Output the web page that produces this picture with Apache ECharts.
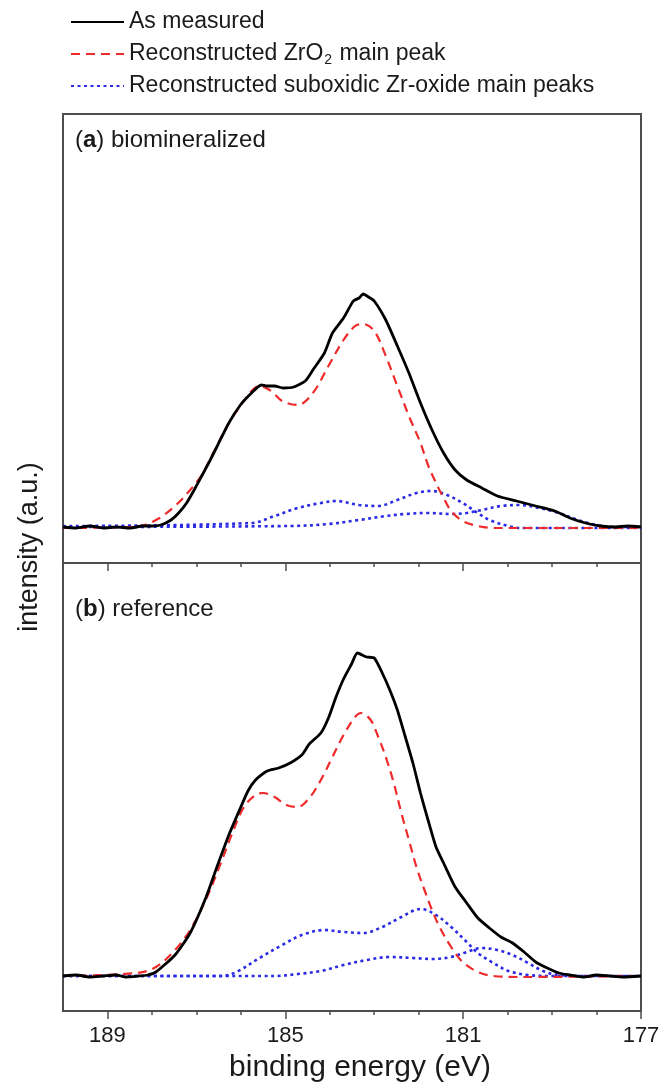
<!DOCTYPE html>
<html>
<head>
<meta charset="utf-8">
<script src="https://cdn.jsdelivr.net/npm/echarts@6/dist/echarts.min.js"></script>
<style>
  html, body { margin: 0; padding: 0; background: #fff; }
  #chart { width: 660px; height: 1090px; }
</style>
</head>
<body>
<div id="chart"></div>
<script>
// series names (legend)
const NAME_MEAS = 'As measured'
const NAME_ZRO2 = 'Reconstructed ZrO2 main peak'
const NAME_SUB = 'Reconstructed suboxidic Zr-oxide main peaks'

// x ticks (binding energy, eV)
const tickLabels = [189, 185, 181, 177]
const minorTicks = [188, 187, 186, 184, 183, 182, 180, 179, 178]

// (a) biomineralized - as measured
const aMeasE = [190.0, 189.7, 189.4, 189.1, 188.8, 188.5, 188.2, 188.0, 187.8, 187.57, 187.4, 187.22, 187.05, 186.88, 186.7, 186.53, 186.27, 186.01, 185.76, 185.54, 185.41, 185.24, 185.05, 184.81, 184.55, 184.38, 184.12, 183.94, 183.69, 183.47, 183.34, 183.25, 183.13, 183.0, 182.74, 182.48, 182.22, 181.96, 181.7, 181.44, 181.18, 180.92, 180.58, 180.23, 179.8, 179.37, 178.94, 178.6, 178.25, 177.91, 177.6, 177.3, 177.0]
const aMeasI = [0, -1, 1, -1, 0, -1, 1, 1, 2, 7, 14, 24, 37, 51, 66, 81, 104, 122, 134, 142, 141, 141, 139, 140, 146, 157, 174, 194, 209, 226, 229, 233, 230, 226, 207, 181, 154, 124, 97, 74, 57, 47, 39, 31, 26, 21, 16, 9, 4, 1, 0, 1, 0]

// (a) reconstructed ZrO2
const aZrE = [190.0, 188.52, 188.17, 187.83, 187.48, 187.14, 186.88, 186.62, 186.27, 186.01, 185.76, 185.58, 185.32, 185.07, 184.72, 184.38, 184.03, 183.69, 183.43, 183.25, 183.0, 182.74, 182.48, 182.22, 181.96, 181.79, 181.61, 181.44, 181.27, 181.01, 180.67, 180.3, 177.0]
const aZrI = [-1, 0, 2, 9, 21, 37, 52, 74, 104, 121, 136, 141, 136, 126, 122, 134, 161, 187, 201, 203, 196, 171, 141, 111, 84, 62, 44, 29, 16, 6, 1, -1, -1]

// (a) suboxidic components
const aSub1E = [190.0, 185.76, 185.24, 184.72, 184.2, 183.86, 183.34, 182.91, 182.48, 182.05, 181.7, 181.36, 181.01, 180.67, 180.41, 179.98, 179.72, 177.0]
const aSub1I = [1, 4, 11, 19, 24, 26, 22, 21, 27, 34, 36, 32, 24, 14, 7, 1, -1, -1]
const aSub2E = [190.0, 184.89, 184.03, 183.34, 182.74, 182.3, 181.79, 181.27, 180.92, 180.58, 180.15, 179.72, 179.29, 178.85, 178.42, 177.99, 177.56, 177.0]
const aSub2I = [0, 1, 3, 7, 11, 13, 14, 13, 14, 17, 21, 22, 19, 14, 7, 2, 0, 0]

// (b) reference - as measured
const bMeasE = [190.0, 189.7, 189.4, 189.1, 188.8, 188.6, 188.3, 188.1, 187.91, 187.48, 187.14, 186.79, 186.53, 186.27, 186.01, 185.84, 185.67, 185.41, 185.15, 184.89, 184.63, 184.46, 184.2, 184.03, 183.86, 183.69, 183.51, 183.38, 183.17, 183.0, 182.82, 182.65, 182.48, 182.3, 182.13, 181.96, 181.79, 181.61, 181.44, 181.18, 180.92, 180.67, 180.41, 180.15, 179.89, 179.63, 179.37, 179.11, 178.85, 178.6, 178.3, 178.0, 177.7, 177.4, 177.0]
const bMeasI = [0, 1, -1, 0, 1, -1, 0, 1, 4, 21, 43, 78, 110, 141, 168, 185, 196, 205, 208, 213, 221, 232, 243, 258, 279, 297, 312, 323, 319, 318, 303, 286, 266, 239, 213, 183, 156, 129, 113, 89, 73, 58, 48, 39, 33, 24, 14, 8, 3, 1, -1, 1, 0, -1, 0]

// (b) reconstructed ZrO2
const bZrE = [190.0, 188.34, 187.91, 187.48, 187.14, 186.79, 186.45, 186.19, 185.93, 185.67, 185.5, 185.24, 184.98, 184.72, 184.46, 184.2, 183.94, 183.69, 183.43, 183.3, 183.08, 182.91, 182.74, 182.56, 182.39, 182.22, 182.05, 181.87, 181.7, 181.53, 181.27, 181.01, 180.67, 180.32, 179.72, 177.0]
const bZrI = [0, 3, 9, 26, 46, 76, 113, 143, 169, 181, 183, 179, 171, 169, 178, 196, 219, 241, 259, 263, 256, 239, 219, 193, 163, 136, 109, 86, 66, 49, 29, 14, 4, 0, -1, 0]

// (b) suboxidic components
const bSub1E = [190.0, 186.45, 186.1, 185.58, 185.07, 184.63, 184.12, 183.69, 183.25, 182.82, 182.39, 181.96, 181.61, 181.27, 180.92, 180.67, 180.32, 179.98, 179.54, 179.0, 177.0]
const bSub1I = [0, 0, 4, 18, 31, 41, 46, 44, 43, 49, 59, 67, 61, 49, 34, 23, 13, 5, 1, 0, 0]
const bSub2E = [190.0, 185.24, 184.72, 184.2, 183.69, 183.17, 182.65, 182.13, 181.7, 181.27, 180.92, 180.58, 180.23, 179.89, 179.54, 179.2, 178.85, 178.0, 177.0]
const bSub2I = [0, 0, 2, 5, 11, 16, 19, 18, 17, 19, 24, 28, 26, 21, 13, 5, 1, 0, 0]

const zip = (xs, ys) => xs.map((x, i) => [x, ys[i]])

const frameColor = '#4d4d4d'
const textColor = '#1a1a1a'
const font = 'Liberation Sans, Arial, sans-serif'

const myChart = echarts.init(document.getElementById('chart'))

// one minor axis (every 1 eV) and one major axis (every 4 eV) per panel, both at the bottom
function xAxes(gridIndex, withLabels) {
    return [
        {
            type: 'value', gridIndex, position: 'bottom', offset: 0,
            min: 177, max: 190, interval: 1, inverse: true,
            axisLine: { show: false, onZero: false },
            axisTick: { show: true, length: 4, customValues: minorTicks, lineStyle: { color: frameColor, width: 1.5 } },
            axisLabel: { show: false },
            splitLine: { show: false }
        },
        {
            type: 'value', gridIndex, position: 'bottom', offset: 0,
            min: 177, max: 190, interval: 4, inverse: true,
            axisLine: { show: true, onZero: false, lineStyle: { color: frameColor, width: 2 } },
            axisTick: { show: true, length: 8, customValues: tickLabels, lineStyle: { color: frameColor, width: 1.5 } },
            axisLabel: {
                show: withLabels,
                customValues: tickLabels,
                margin: 14,
                fontSize: 22,
                fontFamily: font,
                color: textColor
            },
            splitLine: { show: false }
        }
    ]
}

function lineSeries(name, data, xAxisIndex, yAxisIndex, style) {
    return {
        name, type: 'line', data, xAxisIndex, yAxisIndex,
        symbol: 'none', showSymbol: false, smooth: style.smooth,
        lineStyle: { color: style.color, width: style.width, type: style.type },
        itemStyle: { color: style.color },
        z: style.z
    }
}

const measStyle = { color: '#000000', width: 2.8, type: 'solid', smooth: 0.2, z: 4 }
const zrStyle = { color: '#ee2a2a', width: 2.2, type: [9, 6], smooth: 0.35, z: 3 }
const subStyle = { color: '#2b2be6', width: 2.6, type: [3, 3.5], smooth: 0.35, z: 2 }

const gridBase = { left: 63, width: 578, show: true, borderColor: frameColor, borderWidth: 2, backgroundColor: 'transparent', outerBoundsMode: 'none', containLabel: false }

const option = {
    animation: false,
    backgroundColor: '#ffffff',
    legend: {
        orient: 'vertical',
        left: 70,
        top: 9,
        padding: 0,
        itemGap: 6,
        itemWidth: 53,
        itemHeight: 14,
        itemStyle: { opacity: 0 },
        data: [NAME_MEAS, NAME_ZRO2, NAME_SUB],
        textStyle: {
            fontSize: 23,
            fontFamily: font,
            color: textColor,
            lineHeight: 26,
            rich: {
                sub: { fontSize: 14, fontFamily: font, color: textColor, lineHeight: 14, padding: [12, 1, 0, 1] }
            }
        },
        formatter: name => name === NAME_ZRO2 ? 'Reconstructed ZrO{sub|2} main peak' : name
    },
    grid: [
        Object.assign({}, gridBase, { top: 114, height: 449 }),
        Object.assign({}, gridBase, { top: 563, height: 448 })
    ],
    xAxis: [...xAxes(0, false), ...xAxes(1, true)],
    yAxis: [
        { type: 'value', gridIndex: 0, min: -36, max: 413, show: false },
        { type: 'value', gridIndex: 1, min: -35, max: 413, show: false }
    ],
    graphic: [
        {
            type: 'text', left: 75, top: 128,
            style: { text: '({b|a}) biomineralized', fontSize: 24, fontFamily: font, fill: textColor, rich: { b: { fontSize: 24, fontWeight: 'bold', fontFamily: font, fill: textColor } } }
        },
        {
            type: 'text', left: 75, top: 597,
            style: { text: '({b|b}) reference', fontSize: 24, fontFamily: font, fill: textColor, rich: { b: { fontSize: 24, fontWeight: 'bold', fontFamily: font, fill: textColor } } }
        },
        {
            type: 'text', x: 30, y: 547, rotation: Math.PI / 2,
            style: { text: 'intensity (a.u.)', fontSize: 27, fontFamily: font, fill: textColor, align: 'center', verticalAlign: 'middle' }
        },
        {
            type: 'text', x: 360, y: 1068,
            style: { text: 'binding energy (eV)', fontSize: 30, fontFamily: font, fill: textColor, align: 'center', verticalAlign: 'middle' }
        }
    ],
    series: [
        lineSeries(NAME_MEAS, zip(aMeasE, aMeasI), 1, 0, measStyle),
        lineSeries(NAME_ZRO2, zip(aZrE, aZrI), 1, 0, zrStyle),
        lineSeries(NAME_SUB, zip(aSub1E, aSub1I), 1, 0, subStyle),
        lineSeries(NAME_SUB, zip(aSub2E, aSub2I), 1, 0, subStyle),
        lineSeries(NAME_MEAS, zip(bMeasE, bMeasI), 3, 1, measStyle),
        lineSeries(NAME_ZRO2, zip(bZrE, bZrI), 3, 1, zrStyle),
        lineSeries(NAME_SUB, zip(bSub1E, bSub1I), 3, 1, subStyle),
        lineSeries(NAME_SUB, zip(bSub2E, bSub2I), 3, 1, subStyle)
    ]
}

myChart.setOption(option)
</script>
</body>
</html>
